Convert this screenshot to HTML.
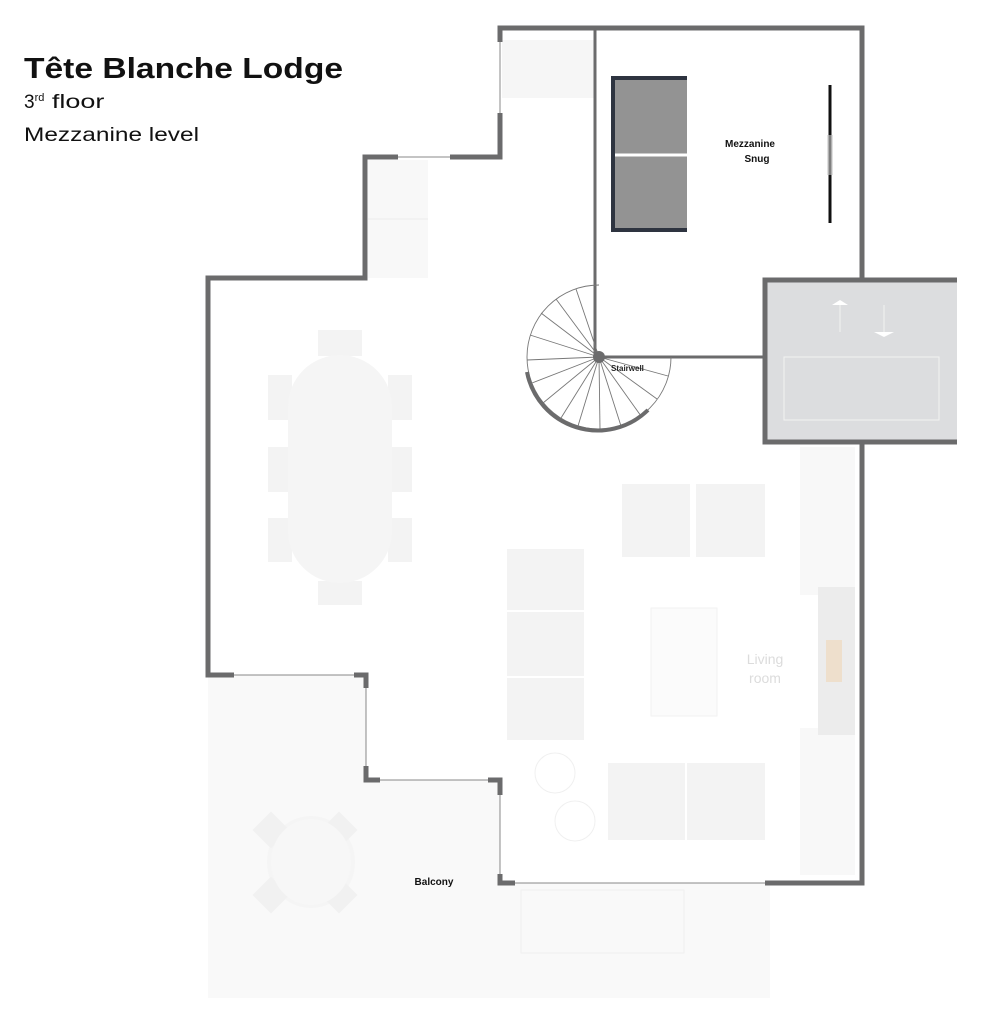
<!DOCTYPE html>
<html><head><meta charset="utf-8"><style>
html,body{margin:0;padding:0;background:#fff;}
svg{display:block;}
</style></head><body>
<svg width="982" height="1024" viewBox="0 0 982 1024" xmlns="http://www.w3.org/2000/svg" font-family="Liberation Sans, sans-serif">
<rect width="982" height="1024" fill="#fff"/>
<rect x="208" y="675" width="562" height="323" fill="#f9f9f9"/>
<polygon points="233,675 366,675 366,780 500,780 500,883 770,883 770,600 233,600" fill="#fff"/>
<g fill="#f1f1f1">
<ellipse cx="311" cy="862" rx="44" ry="46" fill="#f5f5f5"/>
<rect x="258" y="817" width="26" height="26" transform="rotate(45 271 830)"/>
<rect x="326" y="817" width="26" height="26" transform="rotate(45 339 830)"/>
<rect x="258" y="882" width="26" height="26" transform="rotate(45 271 895)"/>
<rect x="326" y="882" width="26" height="26" transform="rotate(45 339 895)"/>
</g>
<ellipse cx="311" cy="862" rx="40" ry="43" fill="#f7f7f7"/>
<rect x="521" y="890" width="163" height="63" fill="none" stroke="#f0f0f0"/>
<rect x="502" y="40" width="92" height="58" fill="#f6f6f6"/>
<rect x="368" y="160" width="60" height="118" fill="#f8f8f8"/>
<line x1="368" y1="219" x2="428" y2="219" stroke="#ececec"/>
<g fill="#f3f3f3">
<rect x="318" y="330" width="44" height="26"/>
<rect x="318" y="581" width="44" height="24"/>
<rect x="268" y="375" width="24" height="45"/><rect x="268" y="447" width="24" height="45"/><rect x="268" y="518" width="24" height="44"/>
<rect x="388" y="375" width="24" height="45"/><rect x="388" y="447" width="24" height="45"/><rect x="388" y="518" width="24" height="44"/>
</g>
<rect x="288" y="355" width="104" height="228" rx="52" fill="#f5f5f5"/>
<g fill="#f3f3f3">
<rect x="622" y="484" width="68" height="73"/><rect x="696" y="484" width="69" height="73"/>
<rect x="507" y="549" width="77" height="191"/>
<rect x="608" y="763" width="157" height="77"/>
<rect x="800" y="447" width="55" height="148" fill="#f8f8f8"/>
<rect x="800" y="728" width="55" height="147" fill="#f8f8f8"/>
<rect x="818" y="587" width="37" height="148" fill="#ececec"/>
</g>
<rect x="826" y="640" width="16" height="42" fill="#eedfcc"/>
<line x1="507" y1="611" x2="584" y2="611" stroke="#fff" stroke-width="2"/>
<line x1="507" y1="677" x2="584" y2="677" stroke="#fff" stroke-width="2"/>
<line x1="686" y1="763" x2="686" y2="840" stroke="#fff" stroke-width="2"/>
<rect x="651" y="608" width="66" height="108" fill="#fbfbfb" stroke="#f2f2f2"/>
<circle cx="555" cy="773" r="20" fill="none" stroke="#f0f0f0"/>
<circle cx="575" cy="821" r="20" fill="none" stroke="#f0f0f0"/>
<text x="765" y="664" font-size="14" fill="#dcdcdc" text-anchor="middle">Living</text>
<text x="765" y="683" font-size="14" fill="#dcdcdc" text-anchor="middle">room</text>
<rect x="765" y="280" width="192" height="162" fill="#dcdddf"/>
<rect x="784" y="357" width="155" height="63" fill="none" stroke="#f2f2f2"/>
<line x1="840" y1="302" x2="840" y2="332" stroke="#f2f2f2"/>
<polygon points="832,305 848,305 840,300" fill="#fff"/>
<line x1="884" y1="305" x2="884" y2="333" stroke="#f2f2f2"/>
<polygon points="874,332 894,332 884,337" fill="#fff"/>
<polyline points="595,28 595,357 765,357" fill="none" stroke="#6b6b6c" stroke-width="3"/>
<rect x="611" y="76" width="76" height="156" fill="#939393"/>
<polyline points="687,78 613,78 613,230 687,230" fill="none" stroke="#2e3440" stroke-width="4"/>
<line x1="615" y1="155" x2="687" y2="155" stroke="#fff" stroke-width="3"/>
<line x1="830" y1="85" x2="830" y2="223" stroke="#111" stroke-width="3"/>
<rect x="827" y="135" width="6" height="40" fill="#ccc" opacity="0.6"/>
<text x="750" y="147" font-size="10" font-weight="bold" fill="#111" text-anchor="middle">Mezzanine</text>
<text x="757" y="162" font-size="10" font-weight="bold" fill="#111" text-anchor="middle">Snug</text>
<path d="M599,285 A72,72 0 1,0 671,357" fill="none" stroke="#777" stroke-width="0.9"/>
<g stroke="#777" stroke-width="0.9">
<line x1="599" y1="357" x2="668" y2="376"/><line x1="599" y1="357" x2="657" y2="399"/><line x1="599" y1="357" x2="641" y2="416"/>
<line x1="599" y1="357" x2="621" y2="426"/><line x1="599" y1="357" x2="600" y2="429"/><line x1="599" y1="357" x2="578" y2="426"/>
<line x1="599" y1="357" x2="561" y2="418"/><line x1="599" y1="357" x2="543" y2="403"/><line x1="599" y1="357" x2="532" y2="383"/>
<line x1="599" y1="357" x2="527" y2="360"/><line x1="599" y1="357" x2="530" y2="335"/><line x1="599" y1="357" x2="541" y2="313"/>
<line x1="599" y1="357" x2="556" y2="299"/><line x1="599" y1="357" x2="576" y2="289"/>
</g>
<path d="M527,372 A72,72 0 0,0 648,410" fill="none" stroke="#6b6b6c" stroke-width="4"/>
<circle cx="599" cy="357" r="6" fill="#6b6b6c"/>
<text x="611" y="371" font-size="8" font-weight="bold" fill="#222">Stairwell</text>
<g fill="none" stroke="#6b6b6c" stroke-width="5" stroke-linejoin="miter">
<polyline points="500,42 500,28 862,28 862,280"/>
<polyline points="500,113 500,157 450,157"/>
<polyline points="398,157 365,157 365,278 208,278 208,675 234,675"/>
<polyline points="354,675 366,675 366,688"/>
<polyline points="366,766 366,780 380,780"/>
<polyline points="488,780 500,780 500,795"/>
<polyline points="500,874 500,883 515,883"/>
<polyline points="765,883 862,883 862,442"/>
<polyline points="957,280 765,280 765,442 957,442"/>
</g>
<g stroke="#888" stroke-width="1" fill="none">
<line x1="500" y1="42" x2="500" y2="113"/>
<line x1="398" y1="157" x2="450" y2="157"/>
<line x1="234" y1="675" x2="354" y2="675"/>
<line x1="366" y1="688" x2="366" y2="766"/>
<line x1="380" y1="780" x2="488" y2="780"/>
<line x1="500" y1="795" x2="500" y2="874"/>
<line x1="515" y1="883" x2="765" y2="883"/>
</g>
<text x="434" y="885" font-size="10" font-weight="bold" fill="#111" text-anchor="middle">Balcony</text>
<text x="24" y="78" font-size="29" font-weight="bold" fill="#111" textLength="319" lengthAdjust="spacingAndGlyphs">Tête Blanche Lodge</text>
<text x="24" y="108" font-size="19" fill="#111">3<tspan font-size="11" dy="-7">rd</tspan><tspan dy="7" textLength="60" lengthAdjust="spacingAndGlyphs"> floor</tspan></text>
<text x="24" y="141" font-size="19" fill="#111" textLength="175" lengthAdjust="spacingAndGlyphs">Mezzanine level</text>
</svg>
</body></html>
